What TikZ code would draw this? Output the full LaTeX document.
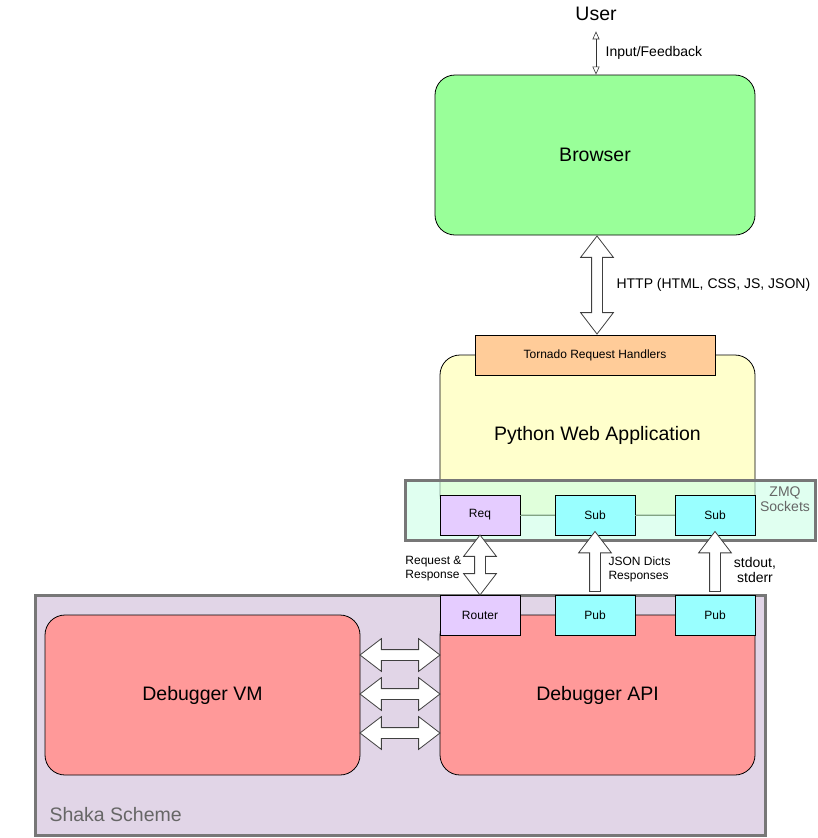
\documentclass[tikz,border=0pt]{standalone}
\usepackage{fontspec}
\setmainfont{Liberation Sans}
\usetikzlibrary{arrows.meta,positioning,shapes.arrows,calc}

\definecolor{browsergreen}{HTML}{99FF99}
\definecolor{tornadopeach}{HTML}{FFCC99}
\definecolor{appyellow}{HTML}{FFFFCC}
\definecolor{zmqgreen}{HTML}{CCFFE6}
\definecolor{framegray}{HTML}{777777}
\definecolor{labelgray}{HTML}{666666}
\definecolor{reqlilac}{HTML}{E5CCFF}
\definecolor{subcyan}{HTML}{99FFFF}
\definecolor{dbgred}{HTML}{FF9999}
\definecolor{shakalilac}{HTML}{E1D5E7}
\definecolor{linkgreen}{HTML}{82A382}

\newcommand{\bigfont}{\fontsize{19.5}{23}\selectfont}
\newcommand{\midfont}{\fontsize{14}{15}\selectfont}
\newcommand{\smallfont}{\fontsize{12}{14}\selectfont}

\tikzset{
  box/.style={draw=black, line width=0.8pt, inner sep=0pt},
  bigbox/.style={box, rounded corners=20pt, minimum width=315pt, minimum height=160pt, font=\bigfont},
  sockbox/.style={box, minimum width=80pt, minimum height=40pt, font=\smallfont},
  frame/.style={draw=framegray, line width=3pt, inner sep=0pt},
  fatarrow/.style={draw=black!75, fill=white, line width=0.8pt, inner sep=5pt,
    single arrow head extend=11pt, single arrow tip angle=75,
    double arrow head extend=11pt, double arrow tip angle=75},
  link/.style={draw=linkgreen, line width=1pt},
  thinarrow/.style={draw=black!80, line width=0.6pt,
    {Triangle[open,width=7pt,length=8pt]}-{Triangle[open,width=7pt,length=8pt]}}
}

\begin{document}
\begin{tikzpicture}[x=1pt, y=-1pt]
    \useasboundingbox (0,0) rectangle (818,838);

    % User and browser
    \node[font=\bigfont] (user) at (596,14) {User};
    \node[bigbox, fill=browsergreen, minimum width=320pt] (browser) at (595,155) {Browser};
    \draw[thinarrow] ($(user.south)+(0,7)$) -- (user.south |- browser.north)
        node[midway, right=6pt, font=\midfont] {Input/Feedback};

    % Web application
    \node[bigbox, fill=appyellow] (pyapp) at (597.5,435) {Python Web Application};
    \node[box, fill=tornadopeach, minimum width=240pt, minimum height=40pt, font=\smallfont]
        (tornado) at (595,355) {Tornado Request Handlers};
    \node[fatarrow, double arrow, minimum height=98pt, rotate=90] (http)
        at ($(browser.south)!0.5!(tornado.north)+(2,0)$) {};
    \node[right=16pt of http.center, font=\midfont] {HTTP (HTML, CSS, JS, JSON)};

    % ZMQ sockets
    \node[frame, fill=zmqgreen, fill opacity=0.6, minimum width=410pt, minimum height=60pt]
        (zmq) at (610,510) {};
    \node[font=\midfont, text=labelgray, align=center] at (785,499) {ZMQ\\Sockets};
    \node[sockbox, fill=reqlilac] (req) at (480,515) {Req};
    \node[sockbox, fill=subcyan] (subjson) at (595,515) {Sub};
    \node[sockbox, fill=subcyan] (subout) at (715,515) {Sub};
    \draw[link] (req.east) -- (subjson.west);
    \draw[link] (subjson.east) -- (subout.west);

    % Shaka Scheme
    \node[frame, fill=shakalilac, minimum width=730pt, minimum height=240pt] (shaka) at (400,715) {};
    \node[font=\bigfont, text=labelgray, anchor=west] at (46,815) {Shaka Scheme};
    \node[bigbox, fill=dbgred] (vm) at (202.5,695) {Debugger VM};
    \node[bigbox, fill=dbgred] (api) at (597.5,695) {Debugger API};
    \node[sockbox, fill=reqlilac] (router) at (480,615) {Router};
    \node[sockbox, fill=subcyan] (pubjson) at (595,615) {Pub};
    \node[sockbox, fill=subcyan] (pubout) at (715,615) {Pub};

    % VM <-> API
    \foreach \dy in {-40,-1,38}
        \node[fatarrow, double arrow, minimum height=80pt]
            at ($(vm.east)!0.5!(api.west)+(0,\dy)$) {};

    % Socket links
    \node[fatarrow, double arrow, minimum height=60pt, rotate=90] (reqlink)
        at ($(req.south)!0.5!(router.north)$) {};
    \node[fatarrow, single arrow, minimum height=60pt, rotate=90] (jsonlink)
        at ($(subjson.south)!0.5!(pubjson.north)$) {};
    \node[fatarrow, single arrow, minimum height=60pt, rotate=90] (outlink)
        at ($(subout.south)!0.5!(pubout.north)$) {};
    \node[font=\smallfont, align=left, anchor=east] at (465,569) {Request \&\\Response};
    \node[font=\smallfont, align=left, anchor=west] at (605,569) {JSON Dicts\\Responses};
    \node[font=\midfont, align=center] at (755,570) {stdout,\\stderr};
\end{tikzpicture}
\end{document}
